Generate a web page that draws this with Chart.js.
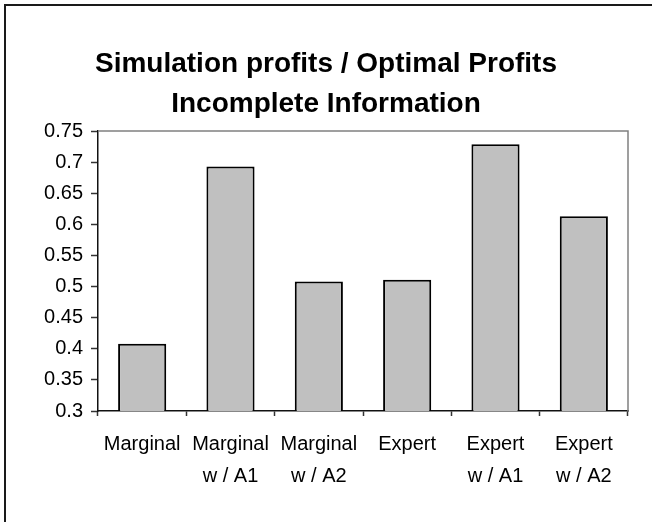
<!DOCTYPE html>
<html>
<head>
<meta charset="utf-8">
<script src="https://cdn.jsdelivr.net/npm/chart.js@4/dist/chart.umd.min.js"></script>
<style>
  body { margin: 0; background: #fff; overflow: hidden; }
  #wrap { position: relative; width: 652px; height: 522px; }
  #frame { position: absolute; left: 4px; top: 4px; width: 700px; height: 600px;
           border: 2px solid #1a1a1a; pointer-events: none; }
</style>
</head>
<body>
<div id="wrap">
  <canvas id="chart" width="652" height="522"></canvas>
  <div id="frame"></div>
</div>
<script>
const categories = [
  ['Marginal'],
  ['Marginal', 'w / A1'],
  ['Marginal', 'w / A2'],
  ['Expert'],
  ['Expert', 'w / A1'],
  ['Expert', 'w / A2']
];
const profitRatio = [0.408, 0.693, 0.508, 0.511, 0.729, 0.613];
const titleLines = ['Simulation profits / Optimal Profits', 'Incomplete Information'];
const yMin = 0.3;
const yMax = 0.75;
const yStep = 0.05;

// gray top/right edge of the plot area
const plotFrame = {
  id: 'plotFrame',
  afterDraw(chart) {
    const { ctx, chartArea: a } = chart;
    ctx.save();
    ctx.strokeStyle = '#808080';
    ctx.lineWidth = 1.5;
    ctx.beginPath();
    ctx.moveTo(a.left, a.top);
    ctx.lineTo(a.right, a.top);
    ctx.lineTo(a.right, a.bottom);
    ctx.stroke();
    ctx.restore();
  }
};

new Chart(document.getElementById('chart').getContext('2d'), {
  type: 'bar',
  data: {
    labels: categories,
    datasets: [{
      data: profitRatio,
      backgroundColor: '#c0c0c0',
      borderColor: '#000',
      borderWidth: 2,
      borderSkipped: false,
      barPercentage: 0.545,
      categoryPercentage: 1
    }]
  },
  options: {
    responsive: false,
    animation: false,
    layout: {
      autoPadding: false,
      padding: { left: 12, right: 12, top: 0, bottom: 0 }
    },
    scales: {
      x: {
        offset: true,
        grid: {
          display: true,
          drawOnChartArea: false,
          offset: true,
          tickLength: 5,
          tickColor: '#333',
          tickWidth: 1.5
        },
        border: { color: '#111', width: 1.5 },
        ticks: {
          color: '#000',
          padding: 13,
          maxRotation: 0,
          autoSkip: false,
          font: { family: 'Liberation Sans, Arial', size: 20, lineHeight: 1.58 }
        },
        afterFit: (s) => { s.height = 111; }
      },
      y: {
        min: yMin,
        max: yMax,
        grid: {
          drawOnChartArea: false,
          tickLength: 7,
          tickColor: '#333',
          tickWidth: 1.5
        },
        border: { color: '#111', width: 1.5 },
        ticks: {
          stepSize: yStep,
          color: '#000',
          padding: 8,
          font: { family: 'Liberation Sans, Arial', size: 20 },
          callback: (v) => String(+v.toFixed(2))
        },
        afterFit: (s) => { s.width = 86; }
      },
      spacer: {
        position: 'right',
        display: true,
        grid: { display: false },
        border: { display: false },
        ticks: { display: false },
        afterFit: (s) => { s.width = 12; }
      }
    },
    plugins: {
      legend: { display: false },
      tooltip: { enabled: false },
      title: {
        display: true,
        text: titleLines,
        color: '#000',
        font: { family: 'Liberation Sans, Arial', size: 28, weight: 'bold', lineHeight: 1.43 },
        padding: { top: 44, bottom: 7 }
      }
    }
  },
  plugins: [plotFrame]
});
</script>
</body>
</html>
